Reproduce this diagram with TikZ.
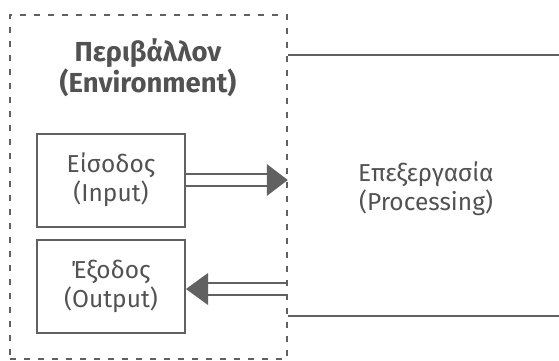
\documentclass[tikz,border=0pt]{standalone}
\usepackage{fontspec}
\setmainfont{Fira Sans}
\begin{document}
\begin{tikzpicture}[x=1pt,y=-1pt,
  ink/.style={draw=black!62, line width=2pt},
  txt/.style={text=black!68, align=center, inner sep=0pt,
              font=\fontsize{24.5}{29}\selectfont},
  boxed/.style={ink, minimum width=148pt, minimum height=93pt},
  shaft/.style={draw=black!62, line width=1.7pt},
  head/.style={fill=black!62, draw=none}]
\useasboundingbox (0,0) rectangle (559,360);

% environment frame (dashed)
\node[draw=black!62, line width=1.5pt, dash pattern=on 6pt off 8pt,
      minimum width=277pt, minimum height=344pt, inner sep=0pt]
      (env) at (148.5,187) {};
\node[txt, font=\bfseries\fontsize{27.5}{29}\selectfont] (envtitle) at (148,68)
      {Περιβάλλον\\(Environment)};

% input and output boxes
\node[boxed, txt] (in) at (111,180) {Είσοδος\\(Input)};
\node[boxed, txt] (out) at (111,286) {Έξοδος\\(Output)};

% processing block (open on the right)
\node[txt] (proc) at (426,189) {Επεξεργασία\\(Processing)};
\coordinate (ptop) at (559,55);
\coordinate (pbot) at (559,316);
\draw[ink] (env.east |- ptop) -- (ptop);
\draw[ink] (env.east |- pbot) -- (pbot);

% input arrow: hollow shaft, solid head
\coordinate (inTip) at (env.east |- 0,180);
\draw[shaft] (in.east |- 0,174) -- ([xshift=-20pt]inTip |- 0,174);
\draw[shaft] (in.east |- 0,186) -- ([xshift=-20pt]inTip |- 0,186);
\fill[head] (inTip) -- ([xshift=-21pt]inTip |- 0,164) -- ([xshift=-21pt]inTip |- 0,196) -- cycle;

% output arrow: hollow shaft, solid head
\coordinate (outTip) at (out.east |- 0,289);
\draw[shaft] (env.east |- 0,283) -- ([xshift=20pt]outTip |- 0,283);
\draw[shaft] (env.east |- 0,295) -- ([xshift=20pt]outTip |- 0,295);
\fill[head] (outTip) -- ([xshift=22pt]outTip |- 0,273) -- ([xshift=22pt]outTip |- 0,305) -- cycle;
\end{tikzpicture}
\end{document}
